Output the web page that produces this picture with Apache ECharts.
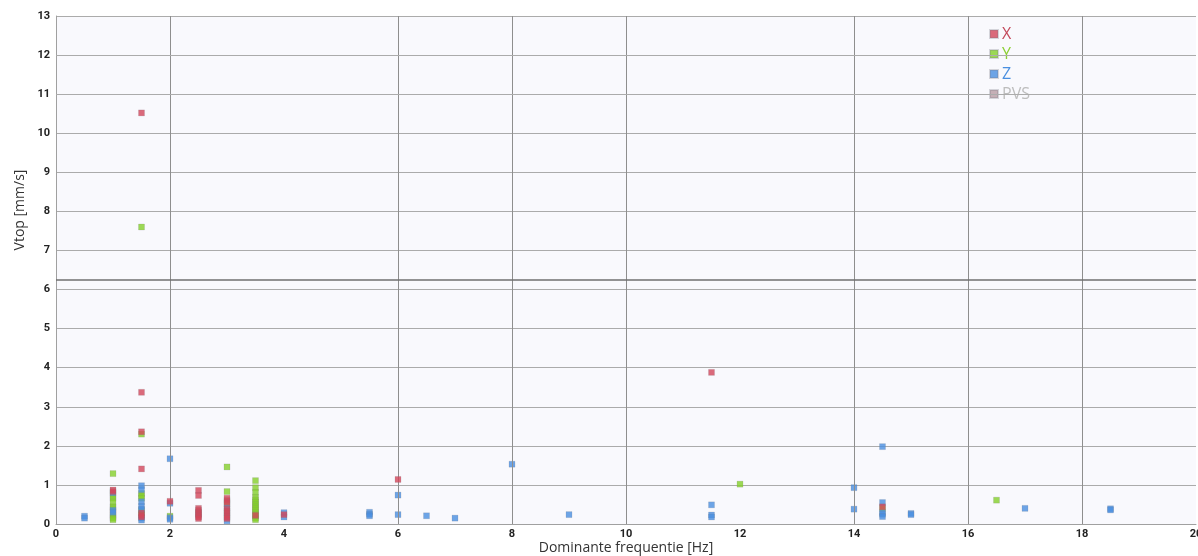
<!DOCTYPE html>
<html>
<head>
<meta charset="utf-8">
<script src="https://cdn.jsdelivr.net/npm/echarts@6/dist/echarts.min.js"></script>
<style>
  html, body { margin: 0; padding: 0; background: #ffffff; overflow: hidden; }
  #chart { width: 1204px; height: 556px; }
</style>
</head>
<body>
<div id="chart"></div>
<script>
// Vibration measurements: dominant frequency [Hz] vs peak velocity [mm/s]
const pointsX = [
  [1, 0.87], [1, 0.83],
  [1.5, 10.52], [1.5, 3.37], [1.5, 2.36], [1.5, 1.41], [1.5, 0.28], [1.5, 0.22], [1.5, 0.18],
  [2, 0.58],
  [2.5, 0.86], [2.5, 0.73], [2.5, 0.40], [2.5, 0.35], [2.5, 0.30], [2.5, 0.26], [2.5, 0.22], [2.5, 0.18], [2.5, 0.14],
  [3, 0.66], [3, 0.60], [3, 0.55], [3, 0.38], [3, 0.33], [3, 0.28], [3, 0.23], [3, 0.18], [3, 0.14],
  [3.5, 0.22],
  [4, 0.24],
  [6, 1.14],
  [11.5, 3.88],
  [14.5, 0.44]
];
const pointsY = [
  [1, 1.29], [1, 0.72], [1, 0.66], [1, 0.56], [1, 0.44], [1, 0.40], [1, 0.24], [1, 0.19], [1, 0.15], [1, 0.11],
  [1.5, 7.6], [1.5, 2.30], [1.5, 0.78], [1.5, 0.72], [1.5, 0.66], [1.5, 0.35], [1.5, 0.25],
  [2, 0.20],
  [3, 1.46], [3, 0.83], [3, 0.51],
  [3.5, 1.11], [3.5, 0.93], [3.5, 0.81], [3.5, 0.68], [3.5, 0.62], [3.5, 0.56], [3.5, 0.50], [3.5, 0.45],
  [3.5, 0.40], [3.5, 0.35], [3.5, 0.30], [3.5, 0.25], [3.5, 0.20], [3.5, 0.15], [3.5, 0.11],
  [12, 1.02],
  [14.5, 0.40],
  [16.5, 0.61]
];
const pointsZ = [
  [0.5, 0.20], [0.5, 0.15],
  [1, 0.80], [1, 0.35], [1, 0.30],
  [1.5, 0.98], [1.5, 0.88], [1.5, 0.57], [1.5, 0.45], [1.5, 0.38], [1.5, 0.15], [1.5, 0.10],
  [2, 1.67], [2, 0.53], [2, 0.16], [2, 0.12],
  [3, 0.42], [3, 0.08],
  [4, 0.29], [4, 0.18],
  [5.5, 0.30], [5.5, 0.25], [5.5, 0.21],
  [6, 0.74], [6, 0.24],
  [6.5, 0.21],
  [7, 0.15],
  [8, 1.53],
  [9, 0.24],
  [11.5, 0.49], [11.5, 0.23], [11.5, 0.18],
  [14, 0.93], [14, 0.38],
  [14.5, 1.98], [14.5, 0.55], [14.5, 0.29], [14.5, 0.25], [14.5, 0.19],
  [15, 0.27], [15, 0.24],
  [17, 0.40],
  [18.5, 0.39], [18.5, 0.36]
];
const pointsPVS = [];

const seriesNames = ['X', 'Y', 'Z', 'PVS'];
const seriesColors = ['#d2465a', '#84cf2a', '#4a8fe0', '#b89ca4'];
const legendTextColors = ['#c44a5c', '#8ccf34', '#4a8fe0', '#bdbdbd'];

// Vertical guide lines, the horizontal limit line, and the grid rows crossing the legend patch
const verticalGuides = [2, 6, 8, 10, 14, 16, 18];
const limitLine = 6.25;
const legendRows = [11, 12];

const gridLineColor = '#ababab';

const chart = echarts.init(document.getElementById('chart'), null, { renderer: 'canvas' });

const canvasWidth = 1204;
const plot = { left: 56, top: 16, right: 1196, bottom: 524 };

const baseFont = 'Roboto, "Open Sans", sans-serif';

function scatter(name, data, color, z) {
  return {
    name: name,
    type: 'scatter',
    data: data,
    symbol: 'rect',
    symbolSize: 6,
    z: z,
    itemStyle: { color: color, borderColor: 'rgba(120,120,130,0.35)', borderWidth: 0.6 },
    emphasis: { disabled: true }
  };
}

const option = {
  animation: false,
  backgroundColor: '#ffffff',
  graphic: [
    {
      // plain white patch behind the legend, upper right of the plot
      type: 'rect', z: -2, silent: true,
      shape: { x: 1082, y: 17, width: plot.right - 1082, height: 87 },
      style: { fill: '#ffffff' }
    },
    {
      type: 'text', z: 5, silent: true,
      x: 20, y: 210, rotation: Math.PI / 2,
      style: {
        text: 'Vtop [mm/s]', fill: '#333333', font: '14px "Open Sans", sans-serif',
        align: 'center', verticalAlign: 'middle'
      }
    }
  ],
  legend: {
    orient: 'vertical',
    left: 984,
    top: 21,
    itemWidth: 8,
    itemHeight: 8,
    itemGap: 4,
    icon: 'rect',
    selectedMode: false,
    textStyle: { fontSize: 16, fontFamily: '"Open Sans", sans-serif', padding: [0, 0, 0, -1] },
    data: seriesNames.map((n, i) => ({ name: n, textStyle: { color: legendTextColors[i] } }))
  },
  grid: {
    left: plot.left,
    top: plot.top,
    right: canvasWidth - plot.right,
    bottom: 556 - plot.bottom,
    containLabel: false,
    outerBoundsMode: 'none',
    show: true,
    borderWidth: 0,
    backgroundColor: '#f9f9fd'
  },
  xAxis: {
    type: 'value',
    min: 0,
    max: 20,
    interval: 2,
    name: 'Dominante frequentie [Hz]',
    nameLocation: 'middle',
    nameGap: 17,
    nameMoveOverlap: false,
    nameTextStyle: { fontSize: 14, color: '#333333', fontFamily: '"Open Sans", sans-serif' },
    axisLine: { show: true, lineStyle: { color: '#a0a0a0', width: 1 } },
    axisTick: { show: false },
    axisLabel: { fontSize: 11, fontWeight: 'bold', color: '#222222', fontFamily: baseFont, margin: 5 },
    splitLine: { show: false }
  },
  yAxis: {
    type: 'value',
    min: 0,
    max: 13,
    interval: 1,
    axisLine: { show: true, lineStyle: { color: '#a0a0a0', width: 1 } },
    axisTick: { show: false },
    axisLabel: { fontSize: 11, fontWeight: 'bold', color: '#222222', fontFamily: baseFont, margin: 6 },
    splitLine: { show: true, lineStyle: { color: gridLineColor, width: 1 } }
  },
  series: [
    scatter('X', pointsX, seriesColors[0], 5),
    scatter('Y', pointsY, seriesColors[1], 3),
    scatter('Z', pointsZ, seriesColors[2], 4),
    Object.assign(scatter('PVS', pointsPVS, seriesColors[3], 1), {
      markLine: {
        silent: true,
        symbol: 'none',
        label: { show: false },
        animation: false,
        data: verticalGuides.map(v => ({ xAxis: v, lineStyle: { color: '#8e8e8e', width: 1, type: 'solid' } }))
          .concat(legendRows.map(v => ({ yAxis: v, lineStyle: { color: gridLineColor, width: 1, type: 'solid' } })))
          .concat([{ yAxis: limitLine, lineStyle: { color: '#6f6f6f', width: 1.5, type: 'solid' } }])
      }
    })
  ]
};

chart.setOption(option);
</script>
</body>
</html>
